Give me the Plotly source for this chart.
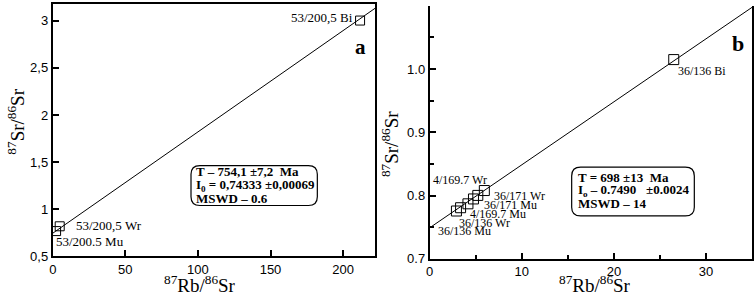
import plotly.graph_objects as go

W, H = 754, 306

# ---- Panel a data ----
a_x = [211.7, 4.8, 2.3]
a_y = [3.003, 0.817, 0.766]
a_names = ["53/200,5 Bi", "53/200,5 Wr", "53/200.5 Mu"]
a_line_x = [0, 222]
a_line_y = [0.7433, 3.133]
a_yticks = [0.5, 1, 1.5, 2, 2.5, 3]
a_ytick_labels = ["0,5", "1", "1,5", "2", "2,5", "3"]
a_xticks = [0, 50, 100, 150, 200]
a_box = ["T \u2013 754,1 \u00b17,2  Ma", "I<sub>0</sub> = 0,74333 \u00b10,00069", "MSWD \u2013 0.6"]

# ---- Panel b data ----
b_x = [26.5, 2.9, 3.35, 4.15, 4.75, 5.22, 5.93]
b_y = [1.015, 0.7755, 0.7807, 0.7869, 0.7946, 0.8002, 0.8079]
b_names = ["36/136 Bi", "36/136 Mu", "36/136 Wr", "4/169.7 Mu", "36/171 Mu", "4/169.7 Wr", "36/171 Wr"]
b_line_x = [0, 35]
b_line_y = [0.749, 1.0976]
b_yticks = [0.7, 0.8, 0.9, 1.0, 1.1]
b_xticks = [0, 10, 20, 30]
b_box = ["T = 698 \u00b113  Ma", "I<sub>o</sub> \u2013 0.7490   \u00b10.0024", "MSWD \u2013 14"]


def px(x):
    return x / W


def py(y):
    return 1 - y / H


SERIF = "Liberation Serif"
SANS = "Liberation Sans"

fig = go.Figure()
mk_a = dict(symbol="square-open", size=9, color="black", line=dict(width=1, color="black"))
mk_b = dict(symbol="square-open", size=10, color="black", line=dict(width=1, color="black"))
fig.add_trace(go.Scatter(x=a_line_x, y=a_line_y, mode="lines", line=dict(color="black", width=1),
                         xaxis="x", yaxis="y", hoverinfo="skip"))
fig.add_trace(go.Scatter(x=a_x, y=a_y, mode="markers", marker=mk_a, xaxis="x", yaxis="y", text=a_names))
fig.add_trace(go.Scatter(x=b_line_x, y=b_line_y, mode="lines", line=dict(color="black", width=1),
                         xaxis="x2", yaxis="y2", hoverinfo="skip"))
fig.add_trace(go.Scatter(x=b_x, y=b_y, mode="markers", marker=mk_b, xaxis="x2", yaxis="y2", text=b_names))

tickfont = dict(family=SANS, size=13, color="black")
common = dict(showline=True, linewidth=2, linecolor="black", ticks="inside", ticklen=6,
              tickwidth=1.5, tickcolor="black", showgrid=False, zeroline=False, tickfont=tickfont)

fig.update_layout(
    width=W, height=H, margin=dict(l=0, r=0, t=0, b=0),
    paper_bgcolor="white", plot_bgcolor="white", showlegend=False,
    xaxis=dict(domain=[px(49), px(373)], range=[0, 222], tickvals=a_xticks, mirror=True,
               anchor="y", **common),
    yaxis=dict(domain=[py(263), py(4)], range=[0.5, 3.18], tickvals=a_yticks,
               ticktext=a_ytick_labels, mirror=True, anchor="x", **common),
    xaxis2=dict(domain=[px(428), px(752)], range=[0, 35], tickvals=b_xticks, anchor="y2",
                minor=dict(tickvals=[5, 15, 25], ticks="inside", ticklen=4, tickcolor="black"),
                **common),
    yaxis2=dict(domain=[py(265.7), py(6)], range=[0.7, 1.1], tickvals=b_yticks,
                tickformat=".1f", anchor="x2", mirror=True,
                minor=dict(tickvals=[0.75, 0.85, 0.95, 1.05], ticks="inside", ticklen=4,
                           tickcolor="black"),
                **common),
)

ann = []
lblfont_a = dict(family=SERIF, size=13, color="black")
lblfont_b = dict(family=SERIF, size=12, color="black")
# panel a point labels (pixel placements)
a_lbl_pos = [(353, 18.3, "right"), (70, 231.7, "left"), (50, 248.3, "left")]
for name, (x, y, anc) in zip(a_names, a_lbl_pos):
    ann.append(dict(x=px(x), y=py(y), xref="paper", yref="paper", text=name, showarrow=False,
                    xanchor=anc, yanchor="middle", font=lblfont_a))
b_lbl_pos = [(675.7, 72.7), (434, 237.3), (455.7, 228.7), (466.7, 220), (480.7, 210.7),
             (429, 185), (490.7, 201)]
for name, (x, y) in zip(b_names, b_lbl_pos):
    ann.append(dict(x=px(x), y=py(y), xref="paper", yref="paper", text=name, showarrow=False,
                    xanchor="left", yanchor="middle", font=lblfont_b))

# panel letters
ann.append(dict(x=px(358), y=py(48), xref="paper", yref="paper", text="<b>a</b>", showarrow=False,
                xanchor="center", yanchor="middle", font=dict(family=SERIF, size=21, color="black")))
ann.append(dict(x=px(746), y=py(45), xref="paper", yref="paper", text="<b>b</b>", showarrow=False,
                xanchor="right", yanchor="middle", font=dict(family=SERIF, size=22, color="black")))

# axis titles
tfont = dict(family=SERIF, size=19, color="black")
ann.append(dict(x=px(197), y=py(292), xref="paper", yref="paper",
                text="<sup>87</sup>Rb/<sup>86</sup>Sr", showarrow=False, xanchor="center",
                yanchor="middle", font=tfont))
ann.append(dict(x=px(594), y=py(292), xref="paper", yref="paper",
                text="<sup>87</sup>Rb/<sup>86</sup>Sr", showarrow=False, xanchor="center",
                yanchor="middle", font=tfont))
ann.append(dict(x=px(12), y=py(125), xref="paper", yref="paper",
                text="<sup>87</sup>Sr/<sup>86</sup>Sr", showarrow=False, textangle=-90,
                xanchor="center", yanchor="middle", font=tfont))
ann.append(dict(x=px(388), y=py(148), xref="paper", yref="paper",
                text="<sup>87</sup>Sr/<sup>86</sup>Sr", showarrow=False, textangle=-90,
                xanchor="center", yanchor="middle", font=tfont))

# info boxes text
bfont = dict(family=SERIF, size=13, color="black")
for t, y in zip(a_box, [176, 190, 204]):
    ann.append(dict(x=px(191), y=py(y), xref="paper", yref="paper", text="<b>" + t + "</b>",
                    showarrow=False, xanchor="left", yanchor="middle", font=bfont))
for t, y in zip(b_box, [182.7, 196, 209.3]):
    ann.append(dict(x=px(575), y=py(y), xref="paper", yref="paper", text="<b>" + t + "</b>",
                    showarrow=False, xanchor="left", yanchor="middle", font=bfont))


def rounded_rect(x0, y0, x1, y1, r):
    # pixel coordinates (y down) -> paper path
    pts = [
        ("M", (x0 + r, y0)), ("L", (x1 - r, y0)), ("Q", (x1, y0), (x1, y0 + r)),
        ("L", (x1, y1 - r)), ("Q", (x1, y1), (x1 - r, y1)), ("L", (x0 + r, y1)),
        ("Q", (x0, y1), (x0, y1 - r)), ("L", (x0, y0 + r)), ("Q", (x0, y0), (x0 + r, y0)),
    ]
    s = ""
    for p in pts:
        cmd = p[0]
        coords = " ".join(f"{px(a):.5f},{py(b):.5f}" for a, b in p[1:])
        s += f"{cmd} {coords} "
    return s + "Z"


shapes = [
    dict(type="path", xref="paper", yref="paper", path=rounded_rect(188, 170, 315, 211, 9),
         line=dict(color="black", width=1.2)),
    dict(type="path", xref="paper", yref="paper", path=rounded_rect(570.7, 171.7, 694, 221.7, 9),
         line=dict(color="black", width=1.2)),
]
fig.update_layout(annotations=ann, shapes=shapes)

fig.write_html("out.html", config={"displayModeBar": False},
               post_script="document.body.style.margin='0';document.body.style.overflow='hidden';")
